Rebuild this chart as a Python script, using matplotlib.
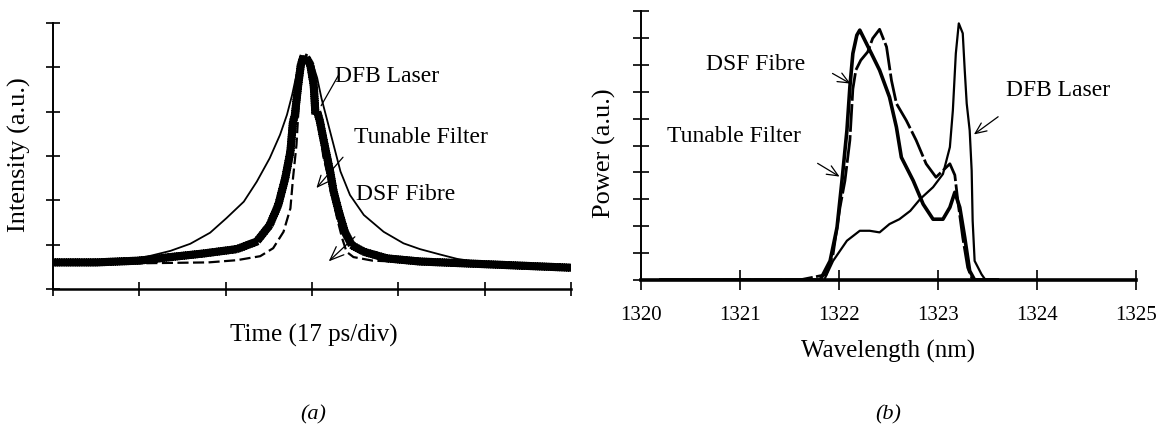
import matplotlib
matplotlib.use("Agg")
import matplotlib.pyplot as plt
import matplotlib.patheffects as pe

plt.rcParams['font.family'] = ['Liberation Serif', 'DejaVu Serif']

# ---------------- (a) time domain, units: divisions ----------------
dfb_t = [0.0, 0.66, 1.09, 1.36, 1.59, 1.82, 2.01, 2.21, 2.36, 2.51, 2.63, 2.71, 2.77, 2.82,
         2.86, 2.90, 2.95, 3.00, 3.06, 3.11, 3.17, 3.25, 3.33, 3.44, 3.60, 3.83, 4.06, 4.25,
         4.48, 4.68, 4.95, 5.5, 6.0]
dfb_i = [0.58, 0.62, 0.73, 0.86, 1.02, 1.27, 1.60, 1.97, 2.42, 2.95, 3.48, 3.93, 4.38, 4.83,
         5.12, 5.24, 5.22, 5.13, 4.76, 4.30, 3.85, 3.25, 2.65, 2.12, 1.67, 1.29, 1.03, 0.90,
         0.78, 0.68, 0.60, 0.53, 0.47]

dsf_t = [0.0, 0.5, 1.0, 1.36, 1.74, 2.13, 2.36, 2.51, 2.61, 2.69, 2.75, 2.78, 2.80, 2.84,
         2.87, 2.90, 2.94, 2.98, 3.02, 3.04, 3.06, 3.09, 3.13, 3.17, 3.21, 3.25, 3.31, 3.38,
         3.46, 3.60, 3.87, 4.25, 5.0, 6.0]
dsf_i = [0.60, 0.60, 0.64, 0.72, 0.80, 0.90, 1.07, 1.44, 1.90, 2.50, 3.10, 3.78, 3.90, 4.60,
         5.05, 5.24, 5.20, 5.06, 4.60, 3.93, 4.00, 3.80, 3.40, 3.02, 2.65, 2.20, 1.75, 1.29,
         0.99, 0.84, 0.69, 0.62, 0.56, 0.48]

tf_t = [0.0, 1.0, 1.8, 2.13, 2.40, 2.55, 2.67, 2.75, 2.78, 2.82, 2.84, 2.86, 2.88, 2.90,
        2.95, 3.00, 3.03, 3.06, 3.09, 3.13, 3.21, 3.29, 3.35, 3.40, 3.48, 3.7, 4.2, 5.0, 6.0]
tf_i = [0.58, 0.58, 0.60, 0.65, 0.74, 0.92, 1.29, 1.82, 2.50, 3.25, 3.93, 4.60, 5.10, 5.24,
        5.15, 4.80, 4.20, 3.95, 3.63, 3.00, 2.35, 1.60, 1.14, 0.84, 0.72, 0.64, 0.60, 0.55, 0.50]

time_ticks = [0, 1, 2, 3, 4, 5, 6]
int_ticks = [0, 1, 2, 3, 4, 5, 6]

# ---------------- (b) spectra ----------------
dsf_wl = [1320.2, 1321.6, 1321.81, 1321.91, 1321.98, 1322.03, 1322.08, 1322.11, 1322.14,
          1322.18, 1322.21, 1322.26, 1322.33, 1322.41, 1322.51, 1322.58, 1322.63, 1322.75,
          1322.85, 1322.95, 1323.05, 1323.12, 1323.17, 1323.22, 1323.27, 1323.32, 1323.37,
          1323.6]
dsf_p = [0, 0, 0.0, 0.71, 1.95, 3.69, 5.56, 7.18, 8.42, 9.1, 9.29, 8.92, 8.4, 7.8, 6.8, 5.68,
         4.56, 3.69, 2.82, 2.26, 2.26, 2.70, 3.26, 2.70, 1.58, 0.34, 0.0, 0]

tf_wl = [1320.2, 1321.6, 1321.87, 1321.94, 1322.01, 1322.06, 1322.11, 1322.14, 1322.17,
         1322.22, 1322.29, 1322.34, 1322.41, 1322.48, 1322.53, 1322.58, 1322.68, 1322.78,
         1322.88, 1322.98, 1323.05, 1323.12, 1323.17, 1323.20, 1323.25, 1323.30, 1323.35,
         1323.6]
tf_p = [0, 0, 0.2, 0.96, 2.7, 3.69, 5.2, 7.1, 7.8, 8.17, 8.48, 8.98, 9.32, 8.67, 7.42, 6.56,
        5.93, 5.19, 4.32, 3.82, 4.07, 4.32, 3.9, 2.95, 1.58, 0.46, 0.0, 0]

dfb_wl = [1320.2, 1321.6, 1321.85, 1321.94, 1322.08, 1322.21, 1322.31, 1322.41, 1322.51,
          1322.61, 1322.72, 1322.82, 1322.95, 1323.05, 1323.12, 1323.15, 1323.18, 1323.21,
          1323.25, 1323.27, 1323.29, 1323.32, 1323.34, 1323.35, 1323.37, 1323.44, 1323.48,
          1323.6]
dfb_p = [0, 0, 0, 0.71, 1.46, 1.83, 1.83, 1.77, 2.08, 2.26, 2.57, 3.01, 3.45, 3.94, 4.94, 6.3,
         8.42, 9.54, 9.17, 7.8, 6.56, 5.56, 4.07, 2.2, 0.71, 0.21, 0, 0]

wl_ticks = [1320, 1321, 1322, 1323, 1324, 1325]
wl_labels = ['1320', '1321', '1322', '1323', '1324', '1325']
pow_ticks = [0, 1, 2, 3, 4, 5, 6, 7, 8, 9, 10]

W, H = 1161, 432
fig = plt.figure(figsize=(W / 100, H / 100), dpi=100)

def axes_px(x0, x1, ytop, ybot):
    return fig.add_axes([x0 / W, (H - ybot) / H, (x1 - x0) / W, (ybot - ytop) / H])

axa = axes_px(53, 571, 23, 289)
axb = axes_px(641, 1136, 11, 280)

for ax in (axa, axb):
    ax.spines['top'].set_visible(False)
    ax.spines['right'].set_visible(False)
    ax.spines['left'].set_linewidth(1.4)
    ax.set_facecolor('white')

# ---- panel (a)
noisy = [pe.TickedStroke(spacing=1.6, angle=90, length=1.2),
         pe.TickedStroke(spacing=1.6, angle=-90, length=1.2), pe.Normal()]
axa.plot(dfb_t, dfb_i, color='black', lw=1.3)
axa.plot(tf_t, tf_i, color='black', lw=1.6, ls=(0, (5, 2)))
axa.plot(dsf_t, dsf_i, color='black', lw=2.0, path_effects=noisy)
axa.set_xlim(0, 6)
axa.set_ylim(0, 6)
axa.set_xticks(time_ticks)
axa.set_yticks(int_ticks)
axa.tick_params(direction='inout', length=10, width=1.2, labelbottom=False, labelleft=False)
axa.spines['bottom'].set_linewidth(1.8)

tkw = dict(fontsize=17, va='center', ha='left', color='black')
axa.text(3.27, 4.79, 'DFB Laser', **tkw)
axa.text(3.49, 3.42, 'Tunable Filter', **tkw)
axa.text(3.51, 2.14, 'DSF Fibre', **tkw)
axa.annotate('', xy=(3.09, 4.08), xytext=(3.33, 4.9),
             arrowprops=dict(arrowstyle='-', lw=0.9, color='black'))
axa.annotate('', xy=(3.03, 2.23), xytext=(3.38, 3.02),
             arrowprops=dict(arrowstyle='->,head_length=0.8,head_width=0.35', lw=0.9, color='black'))
axa.annotate('', xy=(3.17, 0.58), xytext=(3.52, 1.22),
             arrowprops=dict(arrowstyle='->,head_length=1.0,head_width=0.4', lw=0.9, color='black'))

axa.set_ylabel('Intensity (a.u.)', fontsize=19)
axa.yaxis.set_label_coords(-0.064, 0.504)
axa.yaxis.label.set_va('center')

# ---- panel (b)
axb.plot(dfb_wl, dfb_p, color='black', lw=1.6)
axb.plot(tf_wl, tf_p, color='black', lw=2.0, ls=(0, (10, 1.2)))
axb.plot(dsf_wl, dsf_p, color='black', lw=2.6)
axb.set_xlim(1320, 1325)
axb.set_ylim(0, 10)
axb.set_xticks(wl_ticks)
axb.set_xticklabels(wl_labels, fontsize=15)
axb.set_yticks(pow_ticks)
axb.tick_params(axis='x', direction='inout', length=14, width=1.2, pad=12)
axb.tick_params(axis='y', direction='inout', length=12, width=1.2, labelleft=False)
axb.spines['bottom'].set_linewidth(2.6)

axb.text(1320.66, 8.0, 'DSF Fibre', **tkw)
axb.text(1320.26, 5.32, 'Tunable Filter', **tkw)
axb.text(1323.69, 7.06, 'DFB Laser', **tkw)
arr = dict(arrowstyle='->,head_length=0.8,head_width=0.35', lw=0.9, color='black')
axb.annotate('', xy=(1322.14, 7.25), xytext=(1321.91, 7.73), arrowprops=arr)
axb.annotate('', xy=(1322.03, 3.79), xytext=(1321.76, 4.39), arrowprops=arr)
axb.annotate('', xy=(1323.34, 5.35), xytext=(1323.63, 6.13), arrowprops=arr)

axb.set_ylabel('Power (a.u.)', fontsize=19)
axb.yaxis.set_label_coords(-0.073, 0.472)
axb.yaxis.label.set_va('center')

# x labels and panel captions
fig.text(314 / W, 1 - 335 / H, 'Time (17 ps/div)', fontsize=18, ha='center', va='center')
fig.text(888 / W, 1 - 351 / H, 'Wavelength (nm)', fontsize=18, ha='center', va='center')
fig.text(313 / W, 1 - 415 / H, '(a)', fontsize=16, style='italic', ha='center', va='center')
fig.text(888 / W, 1 - 415 / H, '(b)', fontsize=16, style='italic', ha='center', va='center')

fig.savefig('out.png', dpi=100, facecolor='white')
